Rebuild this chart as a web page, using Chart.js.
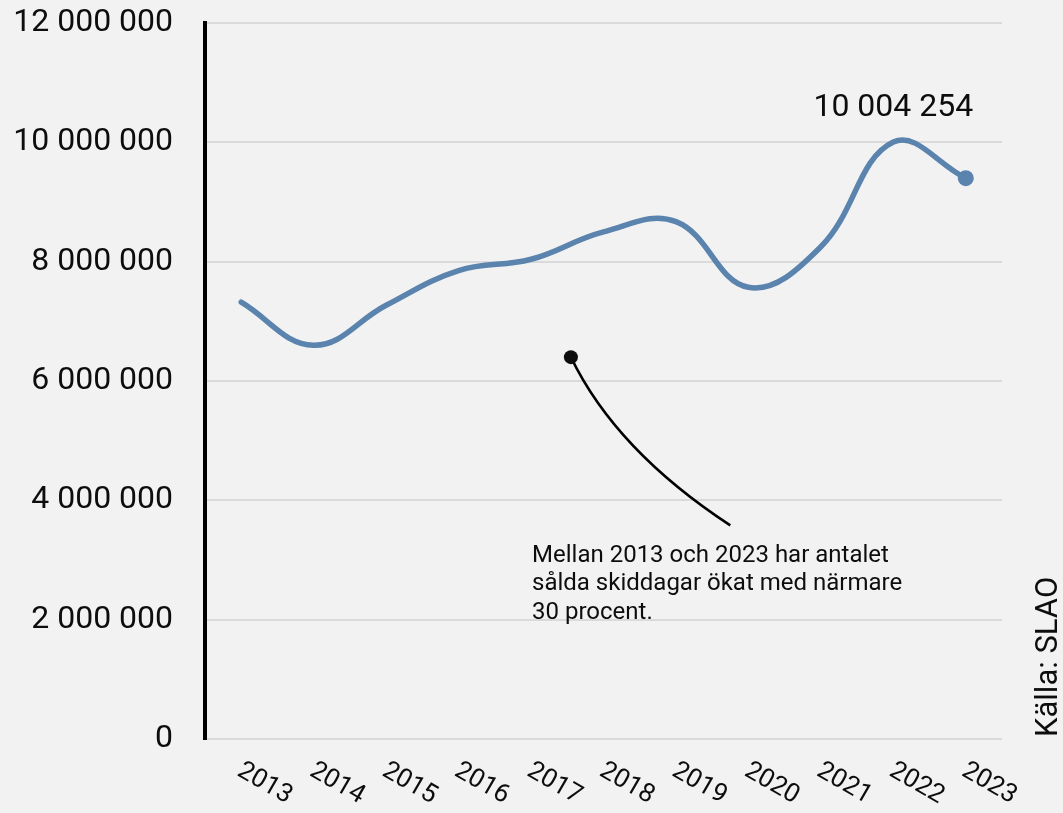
<!DOCTYPE html>
<html>
<head>
<meta charset="utf-8">
<script src="https://cdn.jsdelivr.net/npm/chart.js@4.4.0/dist/chart.umd.min.js"></script>
<style>
  html, body { margin: 0; padding: 0; background: #f2f2f2; }
  #wrap { width: 1063px; height: 813px; position: relative; }
</style>
</head>
<body>
<div id="wrap"><canvas id="myChart" width="1063" height="813"></canvas></div>
<script>
// Data
const years = ['2013', '2014', '2015', '2016', '2017', '2018', '2019', '2020', '2021', '2022', '2023'];
const skiDays = [7320000, 6600000, 7270000, 7850000, 8040000, 8500000, 8670000, 7570000, 8250000, 10004254, 9400000];
const yTicks = [0, 2000000, 4000000, 6000000, 8000000, 10000000, 12000000];
const peakLabel = '10 004 254';
const noteLines = ['Mellan 2013 och 2023 har antalet', 'sålda skiddagar ökat med närmare', '30 procent.'];
const sourceText = 'Källa: SLAO';

const FONT = 'Roboto, "Noto Sans", sans-serif';
const lastIdx = skiDays.length - 1;

function fmt(v) {
  return String(v).replace(/\B(?=(\d{3})+(?!\d))/g, ' ');
}

// Extras: background, rotated x labels, peak value, note, source
const extras = {
  id: 'extras',
  beforeDraw(chart) {
    const c = chart.ctx;
    c.save();
    c.fillStyle = '#f2f2f2';
    c.fillRect(0, 0, chart.width, chart.height);
    c.restore();
  },
  afterDraw(chart) {
    const c = chart.ctx;
    const xs = chart.scales.x;
    const ys = chart.scales.y;
    c.save();
    c.fillStyle = '#0d0d0d';

    // x labels, rotated clockwise
    c.font = '26px ' + FONT;
    c.textAlign = 'left';
    c.textBaseline = 'middle';
    years.forEach((y, i) => {
      const px = xs.getPixelForValue(i);
      c.save();
      c.translate(px - 2, ys.bottom + 30);
      c.rotate(Math.PI / 6);
      c.fillText(y, 0, 0);
      c.restore();
    });

    // value label over 2022
    const pi = skiDays.indexOf(Math.max(...skiDays));
    c.font = '32px ' + FONT;
    c.textAlign = 'center';
    c.textBaseline = 'alphabetic';
    c.fillText(peakLabel, xs.getPixelForValue(pi), ys.getPixelForValue(skiDays[pi]) - 26);

    // note with curved pointer
    const dx = xs.getPixelForValue(4.55);
    const dy = ys.getPixelForValue(6400000);
    const ex = xs.getPixelForValue(6.75);
    const ey = ys.getPixelForValue(3580000);
    c.strokeStyle = '#000';
    c.lineWidth = 2.5;
    c.beginPath();
    c.moveTo(dx, dy);
    c.quadraticCurveTo(dx + 45, ey - 75, ex, ey);
    c.stroke();
    c.beginPath();
    c.arc(dx, dy, 7, 0, Math.PI * 2);
    c.fill();

    c.font = '24px ' + FONT;
    c.textAlign = 'left';
    const nx = xs.getPixelForValue(4) + 1;
    const ny = ys.getPixelForValue(2970000);
    noteLines.forEach((t, i) => c.fillText(t, nx, ny + i * 28.5));

    // source, vertical
    c.font = '31px ' + FONT;
    c.save();
    c.translate(1057, 737);
    c.rotate(-Math.PI / 2);
    c.textAlign = 'left';
    c.fillText(sourceText, 0, 0);
    c.restore();

    c.restore();
  }
};

const ctx = document.getElementById('myChart').getContext('2d');
const SkiChart = new Chart(ctx, {
  type: 'line',
  data: {
    labels: years,
    datasets: [{
      data: skiDays,
      borderColor: '#5a83ad',
      backgroundColor: '#5a83ad',
      borderWidth: 5.5,
      borderCapStyle: 'round',
      tension: 0.4,
      pointRadius: (c) => (c.dataIndex === lastIdx ? 8 : 0),
      pointBorderWidth: 0,
      fill: false,
    }],
  },
  options: {
    responsive: false,
    animation: false,
    layout: { padding: { top: 23, right: 61, left: 0, bottom: 0 } },
    plugins: { legend: { display: false }, tooltip: { enabled: false } },
    scales: {
      x: {
        offset: true,
        grid: { display: false },
        border: { display: false },
        ticks: { display: false },
        afterFit(s) { s.height = 74; s.paddingLeft = 0; s.paddingRight = 0; },
      },
      y: {
        min: 0,
        max: 12000000,
        afterBuildTicks(s) { s.ticks = yTicks.map(v => ({ value: v })); },
        grid: { color: '#dadada', lineWidth: 2, drawTicks: false },
        border: { display: true, color: '#000', width: 4 },
        ticks: {
          padding: 32,
          color: '#0d0d0d',
          font: { family: FONT, size: 32 },
          callback: (v) => fmt(v),
        },
        afterFit(s) { s.width = 205; s.paddingTop = 0; s.paddingBottom = 0; },
      },
    },
  },
  plugins: [extras],
});
</script>
</body>
</html>
